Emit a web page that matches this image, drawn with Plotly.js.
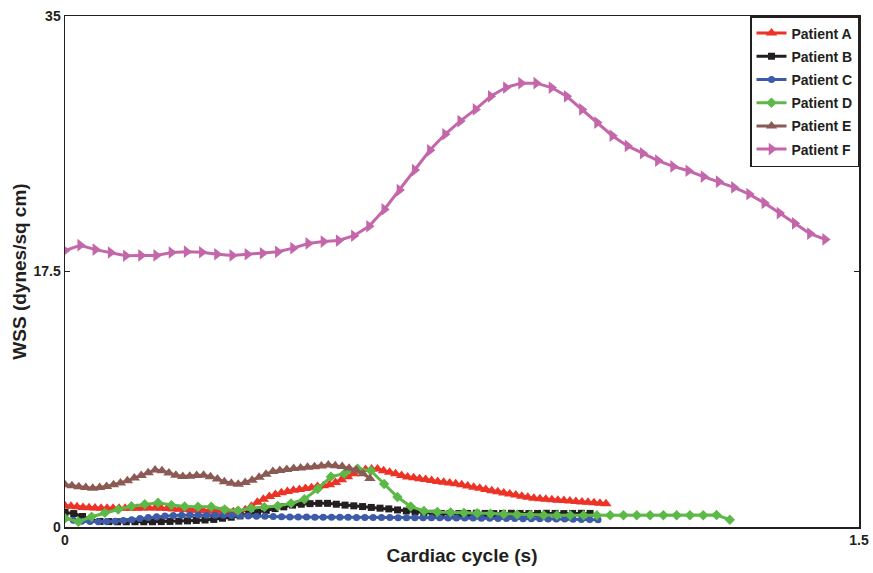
<!DOCTYPE html>
<html>
<head>
<meta charset="utf-8">
<script src="https://cdn.plot.ly/plotly-3.0.1.min.js"></script>
<style>html,body{margin:0;padding:0;background:#fff;}#chart{width:873px;height:573px;}</style>
</head>
<body>
<div id="chart"></div>
<script>
// Patient names
const patients = ["Patient A", "Patient B", "Patient C", "Patient D", "Patient E", "Patient F"];

const cycleA = 1.022, cycleB = 0.992, cycleC = 1.007, cycleD = 1.256, cycleE = 0.576, cycleF = 1.436;

// WSS values (dynes/sq cm), evenly sampled over each cycle
const wssA = [1.45,1.42,1.38,1.34,1.31,1.3,1.29,1.28,1.28,1.28,
  1.28,1.28,1.29,1.3,1.3,1.3,1.29,1.27,1.24,1.22,
  1.2,1.17,1.14,1.12,1.1,1.09,1.08,1.06,1.05,1.06,
  1.18,1.42,1.7,1.9,2.09,2.22,2.34,2.44,2.51,2.57,
  2.63,2.69,2.77,2.83,2.89,3.05,3.24,3.45,3.65,3.82,
  3.94,3.97,3.97,3.86,3.75,3.65,3.53,3.43,3.37,3.31,
  3.25,3.19,3.12,3.07,3.02,2.96,2.89,2.81,2.73,2.65,
  2.57,2.49,2.41,2.33,2.26,2.19,2.11,2.04,1.97,1.93,
  1.9,1.87,1.84,1.81,1.78,1.75,1.72,1.69,1.66,1.63,1.6];
const wssB = [1.0,0.92,0.72,0.5,0.38,0.37,0.36,0.36,0.36,0.36,
  0.36,0.37,0.38,0.4,0.42,0.45,0.48,0.52,0.6,0.67,
  0.76,0.88,1.02,1.14,1.26,1.38,1.5,1.56,1.6,1.62,
  1.62,1.56,1.5,1.45,1.4,1.34,1.29,1.24,1.17,1.1,
  1.03,0.96,0.94,0.93,0.93,0.92,0.93,0.94,0.93,0.92,
  0.93,0.94,0.93,0.92,0.93,0.94,0.93,0.92,0.93,0.94,0.93];
const wssC = [0.6,0.47,0.39,0.37,0.36,0.37,0.4,0.44,0.5,0.59,
  0.65,0.71,0.76,0.79,0.81,0.82,0.82,0.81,0.8,0.8,
  0.78,0.77,0.76,0.74,0.73,0.72,0.7,0.69,0.68,0.68,
  0.67,0.67,0.66,0.66,0.66,0.65,0.65,0.65,0.65,0.65,
  0.64,0.64,0.64,0.63,0.63,0.63,0.62,0.62,0.61,0.61,
  0.6,0.6,0.59,0.59,0.58,0.57,0.57,0.56,0.55,0.55,
  0.54,0.53,0.52,0.51,0.5];
const wssD = [0.6,0.36,0.7,0.97,1.2,1.42,1.56,1.66,1.5,1.4,
  1.39,1.39,1.2,1.12,1.28,1.36,1.44,1.62,1.9,2.6,
  3.45,3.65,4.0,3.85,2.95,2.05,1.4,1.1,1.03,1.0,
  0.97,0.94,0.91,0.88,0.85,0.83,0.81,0.8,0.8,0.8,
  0.8,0.8,0.8,0.8,0.8,0.8,0.8,0.8,0.8,0.82,0.5];
const wssE = [2.9,2.82,2.76,2.7,2.66,2.7,2.78,2.9,3.02,3.16,
  3.35,3.53,3.72,3.9,3.85,3.7,3.55,3.46,3.47,3.52,
  3.55,3.45,3.28,3.1,3.0,2.92,3.05,3.2,3.4,3.62,
  3.8,3.87,3.94,4.0,4.04,4.09,4.13,4.18,4.24,4.2,
  4.14,4.03,3.9,3.65,3.33];
const wssF = [18.93,19.3,19.0,18.8,18.58,18.6,18.6,18.8,18.86,18.82,
  18.68,18.6,18.68,18.75,18.85,19.1,19.42,19.55,19.62,19.95,
  20.6,21.75,23.08,24.45,25.8,26.9,27.8,28.6,29.5,30.1,
  30.4,30.4,30.1,29.5,28.6,27.7,26.8,26.1,25.6,25.1,
  24.7,24.4,24.0,23.65,23.26,22.8,22.2,21.5,20.8,20.1,19.7];

// Axis ticks
const xTicks = [0, 1.5];
const xTickText = ["0", "1.5"];
const yTicks = [0, 17.5, 35];
const yTickText = ["0", "17.5", "35"];

// sampling grid: evenly spaced instants over the cycle
function timeGrid(n, T) { const t = []; for (let i = 0; i < n; i++) t.push(i * T / (n - 1)); return t; }

const colors = ["#ec3326", "#231f20", "#3d5ba8", "#5cb947", "#8c5a55", "#c466aa"];
const symbols = ["triangle-up", "square", "circle", "diamond", "triangle-up", "triangle-right"];
const sizes = [10, 7, 7, 8, 10, 11];
const series = [[wssA, cycleA], [wssB, cycleB], [wssC, cycleC], [wssD, cycleD], [wssE, cycleE], [wssF, cycleF]];

const traces = series.map((s, k) => ({
  type: "scatter", mode: "lines+markers",
  x: timeGrid(s[0].length, s[1]), y: s[0],
  name: patients[k], legendgroup: "g" + k,
  line: {color: colors[k], width: 3},
  marker: {color: colors[k], symbol: symbols[k], size: sizes[k], line: {width: 0}}
}));

const font = {family: "Liberation Sans, Arial, sans-serif", color: "#231f20", weight: "bold"};

const layout = {
  width: 873, height: 573,
  margin: {l: 65, r: 14, t: 16, b: 46},
  paper_bgcolor: "#fff", plot_bgcolor: "#fff",
  font: Object.assign({size: 14}, font),
  showlegend: true,
  legend: {x: 1, xanchor: "right", y: 1, yanchor: "top",
    bgcolor: "#fff", bordercolor: "#231f20", borderwidth: 1.5,
    font: Object.assign({size: 14}, font), tracegroupgap: 2, itemwidth: 30},
  xaxis: {range: [0, 1.5], tickmode: "array", tickvals: xTicks, ticktext: xTickText,
    showgrid: false, zeroline: false, showline: true, linecolor: "#231f20", linewidth: 1.5,
    mirror: "ticks", ticks: "inside", ticklen: 5, tickcolor: "#231f20",
    tickfont: Object.assign({size: 14}, font),
    title: {text: "Cardiac cycle (s)", font: Object.assign({size: 19}, font), standoff: 1}},
  yaxis: {range: [0, 35], tickmode: "array", tickvals: yTicks, ticktext: yTickText,
    showgrid: false, zeroline: false, showline: true, linecolor: "#231f20", linewidth: 1.5,
    mirror: "ticks", ticks: "inside", ticklen: 5, tickcolor: "#231f20",
    tickfont: Object.assign({size: 14}, font),
    title: {text: "WSS (dynes/sq cm)", font: Object.assign({size: 19}, font), standoff: 2}}
};

Plotly.newPlot("chart", traces, layout, {displayModeBar: false, staticPlot: true});
</script>
</body>
</html>
